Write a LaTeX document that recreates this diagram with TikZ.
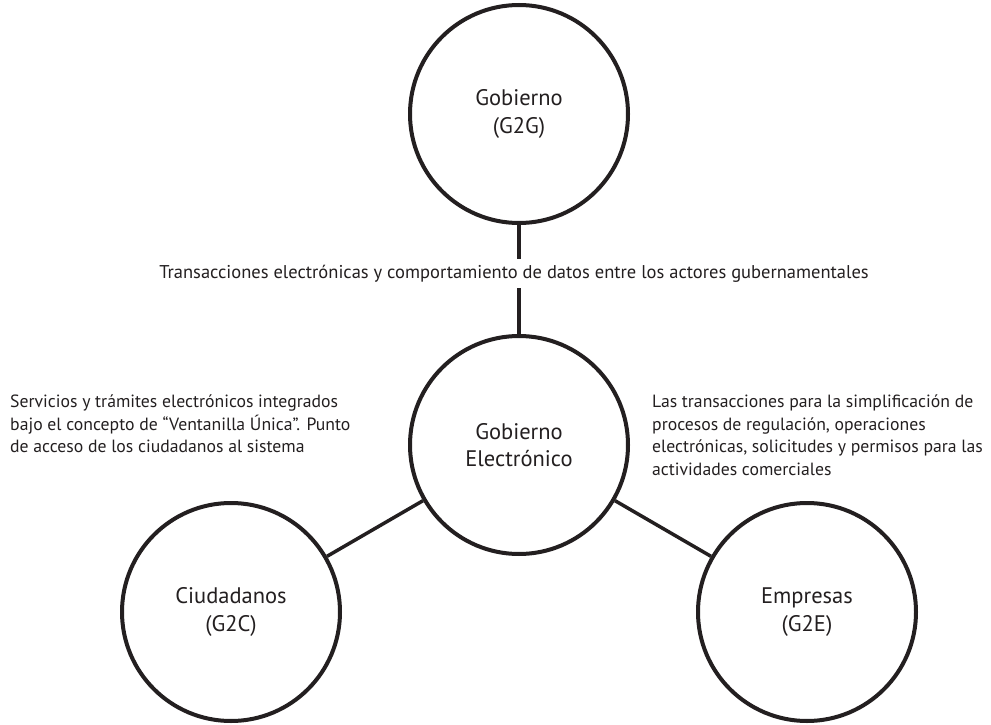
\documentclass[tikz,border=0pt]{standalone}
\usepackage{fontspec}
\setmainfont{PT Sans}
\definecolor{ink}{HTML}{231F20}
\begin{document}
\begin{tikzpicture}[x=1pt,y=-1pt,
  bigcircle/.style={circle,draw=ink,line width=4pt,minimum size=218pt,inner sep=0pt,
    text=ink,align=center,font=\fontsize{22.5}{27.5}\selectfont},
  conn/.style={draw=ink,line width=3.5pt},
  note/.style={text=ink,align=left,inner sep=0pt,font=\fontsize{17.7}{22.5}\selectfont}]
\useasboundingbox (0,0) rectangle (991,725);
\node[bigcircle] (g2g) at (519,114) {Gobierno\\(G2G)};
\node[bigcircle] (ge) at (519,445) {Gobierno\\Electrónico};
\node[bigcircle] (g2c) at (231,612) {Ciudadanos\\(G2C)};
\node[bigcircle] (g2e) at (807,612) {Empresas\\(G2E)};
\draw[conn] (g2g) -- (ge);
\draw[conn] (ge) -- (g2c);
\draw[conn] (ge) -- (g2e);
\node[note,fill=white,inner sep=6pt,anchor=base,font=\fontsize{18.5}{22.5}\selectfont] (lab) at (514,278) {Transacciones electrónicas y comportamiento de datos entre los actores gubernamentales};
\node[note,anchor=north west] (tc) at (10,395) {Servicios y trámites electrónicos integrados\\bajo el concepto de “Ventanilla Única”. Punto\\de acceso de los ciudadanos al sistema};
\node[note,anchor=north west] (te) at (652,395) {Las transacciones para la simplificación de\\procesos de regulación, operaciones\\electrónicas, solicitudes y permisos para las\\actividades comerciales};
\end{tikzpicture}
\end{document}
